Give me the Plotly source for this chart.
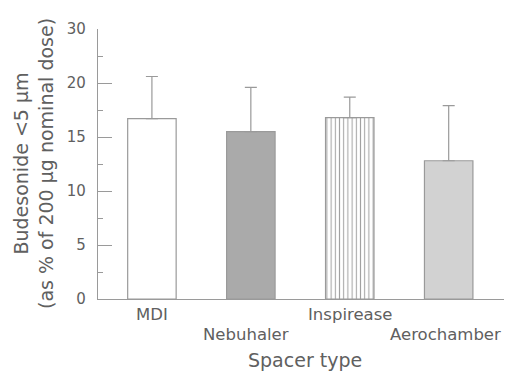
import plotly.graph_objects as go

categories = ["MDI", "Nebuhaler", "Inspirease", "Aerochamber"]
label_rows = [0, 1, 0, 1]
means = [16.7, 15.5, 16.8, 12.8]
sd_upper = [3.9, 4.1, 1.9, 5.1]
y_tickvals = [0, 5, 10, 15, 20, 25]
y_ticktext = ["0", "5", "10", "15", "20", "30"]

fills = ["#ffffff", "#aaaaaa", "#ffffff", "#d2d2d2"]
patterns = ["", "", "|", ""]
label_shift = [0, -5, 0, -3]

TXT = "#606060"
LINE = "#9a9a9a"
FONT = "DejaVu Sans, Arial, sans-serif"

fig = go.Figure()
fig.add_trace(go.Bar(
    x=list(range(len(categories))),
    y=means,
    width=0.49,
    marker=dict(
        color=fills,
        line=dict(color=LINE, width=1.2),
        pattern=dict(shape=patterns, fgcolor="#9a9a9a", bgcolor="#ffffff",
                     size=4.2, solidity=0.25, fillmode="overlay"),
    ),
    error_y=dict(type="data", array=sd_upper, arrayminus=[0] * 4,
                 symmetric=False, color=LINE, thickness=1.2, width=6),
    showlegend=False,
))

# staggered category labels
row_y = [-0.056, -0.133]
for i, (cat, r) in enumerate(zip(categories, label_rows)):
    fig.add_annotation(x=i, y=row_y[r], xref="x", yref="paper", text=cat,
                       showarrow=False, xanchor="center", yanchor="middle",
                       xshift=label_shift[i],
                       font=dict(size=16.5, color=TXT, family=FONT))

fig.add_annotation(x=0.5, y=-0.226, xref="paper", yref="paper",
                   text="Spacer type", showarrow=False,
                   xanchor="center", yanchor="middle",
                   font=dict(size=19, color=TXT, family=FONT))

fig.add_annotation(x=-0.157, y=0.5, xref="paper", yref="paper",
                   text="Budesonide <5 µm<br>(as % of 200 µg nominal dose)",
                   textangle=-90, showarrow=False,
                   xanchor="center", yanchor="middle",
                   font=dict(size=19, color=TXT, family=FONT))

fig.update_layout(
    width=504, height=364,
    margin=dict(l=90, r=0, t=21, b=73),
    paper_bgcolor="white", plot_bgcolor="white",
    font=dict(family=FONT, color=TXT, size=15),
    xaxis=dict(
        range=[-0.545, 3.64],
        tickvals=list(range(len(categories))),
        showticklabels=False,
        showline=True, linecolor=LINE, linewidth=1.2,
        showgrid=False, zeroline=False, ticks="",
    ),
    yaxis=dict(
        range=[0, 25],
        tickvals=y_tickvals, ticktext=y_ticktext,
        showline=True, linecolor=LINE, linewidth=1.2,
        showgrid=False, zeroline=False,
        ticks="inside", ticklen=14, tickcolor=LINE, tickwidth=1.2,
        minor=dict(dtick=2.5, tick0=0, ticks="inside", ticklen=5,
                   tickcolor=LINE, tickwidth=1.2, showgrid=False),
        tickfont=dict(size=15),
        ticklabelstandoff=8,
    ),
)

fig.write_html("out.html")
